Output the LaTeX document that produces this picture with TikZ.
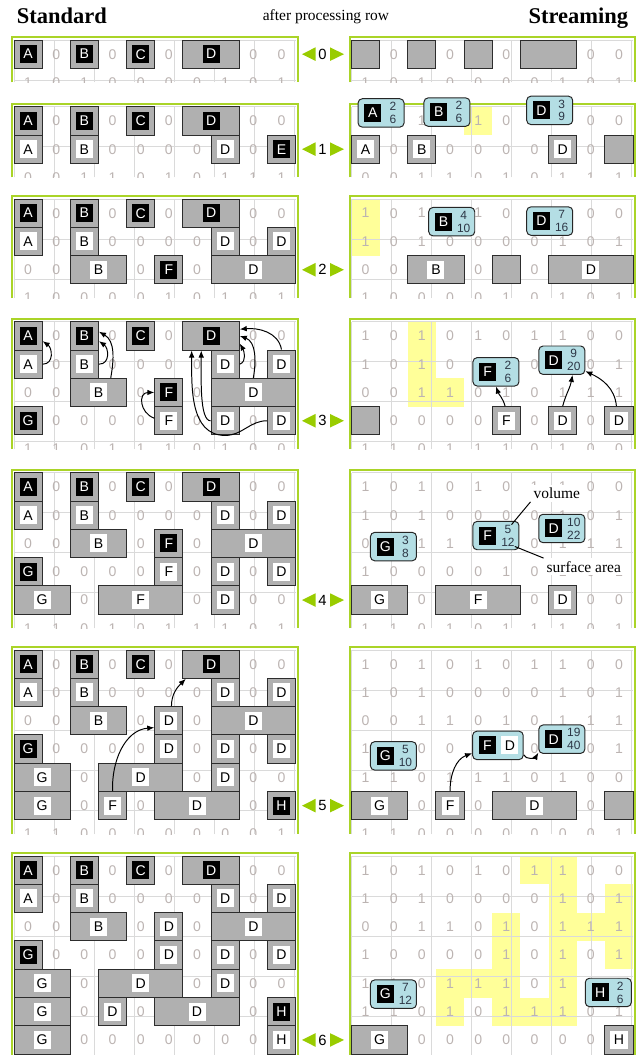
\documentclass[tikz,border=0pt]{standalone}
\usepackage{fontspec}
\setmainfont{Liberation Serif}
\setsansfont{Liberation Sans}
\usetikzlibrary{arrows.meta, calc}
\definecolor{framegreen}{RGB}{170,212,40}
\definecolor{markgreen}{RGB}{153,204,0}
\definecolor{gridgray}{RGB}{218,218,218}
\definecolor{bitgray}{RGB}{188,180,178}
\definecolor{runfill}{RGB}{176,176,176}
\definecolor{runedge}{RGB}{45,45,45}
\definecolor{doneyellow}{RGB}{255,255,153}
\definecolor{infoblue}{RGB}{180,222,228}
\definecolor{infotext}{RGB}{45,55,70}

\tikzset{
  gridunits/.style={x=0.70375cm,y=0.7075cm},
  panelframe/.style={draw=framegreen, line width=1.4pt},
  cellgrid/.style={draw=gridgray, line width=0.7pt},
  bit/.style={text=bitgray, font=\sffamily\fontsize{10}{12}\selectfont, inner sep=0},
  runbox/.style={draw=runedge, fill=runfill, line width=0.7pt, minimum height=0.7075cm, inner sep=0},
  lold/.style={fill=white, text=black, minimum width=12.1pt, minimum height=12.8pt, inner sep=0, font=\sffamily\fontsize{10}{12}\selectfont},
  lnew/.style={lold, fill=black, text=white},
  nolbl/.style={inner sep=0},
  infobox/.style={draw=black!85, fill=infoblue, rounded corners=3pt, line width=0.7pt, minimum width=1.15cm, minimum height=0.71cm, inner sep=0},
  vs/.style={text=infotext, font=\sffamily\fontsize{8.5}{9}\selectfont, inner sep=0},
  marknum/.style={font=\sffamily\fontsize{10.5}{12}\selectfont, inner sep=0},
  title/.style={font=\rmfamily\bfseries\fontsize{16}{18}\selectfont, inner sep=0},
  subtitle/.style={font=\rmfamily\fontsize{11}{13}\selectfont, inner sep=0},
  note/.style={fill=white, font=\rmfamily\fontsize{11}{13}\selectfont, inner sep=2pt},
  flow/.style={-{Latex[length=5pt,width=4pt]}, line width=0.7pt},
}

% the binary image, one group per row
\newcommand{\blobimage}{{1,0,1,0,1,0,1,1,0,0},{1,0,1,0,0,0,0,1,0,1},{0,0,1,1,0,1,0,1,1,1},{1,0,0,0,0,1,0,1,0,1},{1,1,0,1,1,1,0,1,0,0},{1,1,0,1,0,1,1,1,0,1},{1,1,0,0,0,0,0,0,0,1}}

% standard labelling: col/row/length/label style/letter
\newcommand{\stdA}{0/0/1/lnew/A, 2/0/1/lnew/B, 4/0/1/lnew/C, 6/0/2/lnew/D}
\newcommand{\stdBe}{0/1/1/lold/A, 2/1/1/lold/B, 7/1/1/lold/D, 9/1/1/lnew/E}
\newcommand{\stdB}{0/1/1/lold/A, 2/1/1/lold/B, 7/1/1/lold/D, 9/1/1/lold/D}
\newcommand{\stdCf}{2/2/2/lold/B, 5/2/1/lnew/F, 7/2/3/lold/D}
\newcommand{\stdC}{2/2/2/lold/B, 5/2/1/lold/D, 7/2/3/lold/D}
\newcommand{\stdDf}{0/3/1/lnew/G, 5/3/1/lold/F, 7/3/1/lold/D, 9/3/1/lold/D}
\newcommand{\stdD}{0/3/1/lnew/G, 5/3/1/lold/D, 7/3/1/lold/D, 9/3/1/lold/D}
\newcommand{\stdEf}{0/4/2/lold/G, 3/4/3/lold/F, 7/4/1/lold/D}
\newcommand{\stdE}{0/4/2/lold/G, 3/4/3/lold/D, 7/4/1/lold/D}
\newcommand{\stdFf}{0/5/2/lold/G, 3/5/1/lold/F, 5/5/3/lold/D, 9/5/1/lnew/H}
\newcommand{\stdF}{0/5/2/lold/G, 3/5/1/lold/D, 5/5/3/lold/D, 9/5/1/lnew/H}
\newcommand{\stdG}{0/6/2/lold/G, 9/6/1/lold/H}

% streaming: only the current row
\newcommand{\strA}{0/0/1/nolbl/{}, 2/0/1/nolbl/{}, 4/0/1/nolbl/{}, 6/0/2/nolbl/{}}
\newcommand{\strB}{0/1/1/lold/A, 2/1/1/lold/B, 7/1/1/lold/D, 9/1/1/nolbl/{}}
\newcommand{\strC}{2/2/2/lold/B, 5/2/1/nolbl/{}, 7/2/3/lold/D}
\newcommand{\strD}{0/3/1/nolbl/{}, 5/3/1/lold/F, 7/3/1/lold/D, 9/3/1/lold/D}
\newcommand{\strE}{0/4/2/lold/G, 3/4/3/lold/F, 7/4/1/lold/D}
\newcommand{\strF}{0/5/2/lold/G, 3/5/1/lold/F, 5/5/3/lold/D, 9/5/1/nolbl/{}}
\newcommand{\strG}{0/6/2/lold/G, 9/6/1/lold/H}

% frame, grid and bits of a panel
% #2 = depth in rows, #3..#4 = rows drawn as runs
\newcommand{\panelbase}[4]{%
  \draw[panelframe] (-0.07,-#2) |- (10.07,0.09) -- (10.07,-#2);
  \draw[cellgrid] (0,0) grid (10,-#2);
  \begin{scope}
    \clip (0,0) rectangle (10,-#2);
    \foreach \bits [count=\rr from 0] in \blobimage {
      \foreach \bv [count=\cc from 0] in \bits {
        \pgfmathtruncatemacro{\hide}{(\rr>=#3)*(\rr<=#4)*\bv+(\rr>#4+1)}
        \ifnum\hide=0
          \node[bit] (#1-b\rr-\cc) at (\cc+0.5,-\rr-0.5) {\bv};
        \fi
      }
    }
  \end{scope}}

\newcommand{\runs}[2]{%
  \foreach \col/\row/\len/\sty/\lab in #2 {
    \node[runbox, minimum width=\len*0.70375cm] (#1-\row-\col) at (\col+\len/2,-\row-0.5) {};
    \node[\sty] (#1-\row-\col-l) at (#1-\row-\col.center) {\lab};
  }}

% component box: name, centre, letter, volume, surface area
\newcommand{\compinfo}[5]{%
  \node[infobox] (#1) at (#2) {};
  \node[lnew] (#1-l) at ([xshift=-5.8pt]#1.center) {#3};
  \node[vs] (#1-v) at ([xshift=8.5pt,yshift=4.6pt]#1.center) {#4};
  \node[vs] (#1-s) at ([xshift=8.5pt,yshift=-4.6pt]#1.center) {#5};}

% row number between the panels
\newcommand{\rowmark}[2]{%
  \node[marknum] (mark#1) at (322.5,-#2) {#1};
  \fill[markgreen] (315.5,-#2+6.8) -- (302,-#2) -- (315.5,-#2-6.8) -- cycle;
  \fill[markgreen] (330,-#2+6.8) -- (344,-#2) -- (330,-#2-6.8) -- cycle;}

\begin{document}
\begin{tikzpicture}[x=0.025cm,y=0.025cm]
  \useasboundingbox (0,0) rectangle (643,-1055);
  % headings
  \node[title,anchor=base west] (stdtitle) at (16.5,-23.3) {Standard};
  \node[subtitle,anchor=base] (aftertitle) at (326,-20.7) {after processing row};
  \node[title,anchor=base east] (strtitle) at (628.4,-23.3) {Streaming};

  % row 0
  \begin{scope}[shift={(14,-40)},gridunits]
    \panelbase{s0}{1.5}{0}{0}
    \runs{s0}{\stdA}
  \end{scope}
  \begin{scope}[shift={(351.5,-40)},gridunits]
    \panelbase{m0}{1.5}{0}{0}
    \runs{m0}{\strA}
  \end{scope}
  \rowmark{0}{54.15}

  % row 1
  \begin{scope}[shift={(14,-106.7)},gridunits]
    \panelbase{s1}{2.5}{0}{1}
    \runs{s1}{\stdA}
    \runs{s1}{\stdBe}
  \end{scope}
  \begin{scope}[shift={(351.5,-106.7)},gridunits]
    \fill[doneyellow] (4,0) rectangle ++(1,-1);
    \panelbase{m1}{2.5}{1}{1}
    \runs{m1}{\strB}
    \compinfo{m1-A}{1.05,-0.22}{A}{2}{6}
    \compinfo{m1-B}{3.39,-0.19}{B}{2}{6}
    \compinfo{m1-D}{7.04,-0.13}{D}{3}{9}
  \end{scope}
  \rowmark{1}{149.15}

  % row 2
  \begin{scope}[shift={(14,-199)},gridunits]
    \panelbase{s2}{3.5}{0}{2}
    \runs{s2}{\stdA}
    \runs{s2}{\stdB}
    \runs{s2}{\stdCf}
  \end{scope}
  \begin{scope}[shift={(351.5,-199)},gridunits]
    \foreach \col/\row in {0/0,0/1}
      \fill[doneyellow] (\col,-\row) rectangle ++(1,-1);
    \panelbase{m2}{3.5}{2}{2}
    \runs{m2}{\strC}
    \compinfo{m2-B}{3.56,-0.8}{B}{4}{10}
    \compinfo{m2-D}{7.04,-0.78}{D}{7}{16}
  \end{scope}
  \rowmark{2}{269.75}

  % row 3
  \begin{scope}[shift={(14,-321.7)},gridunits]
    \panelbase{s3}{4.5}{0}{3}
    \runs{s3}{\stdA}
    \runs{s3}{\stdB}
    \runs{s3}{\stdCf}
    \runs{s3}{\stdDf}
    \draw[flow] (s3-1-0.east) to[out=0,in=-35,looseness=1.3] (s3-0-0.-20);
    \draw[flow] (s3-1-2.east) to[out=0,in=-35,looseness=1.3] (s3-0-2.-20);
    \draw[flow] (s3-2-2.50) to[out=80,in=-30] (s3-0-2.16);
    \draw[flow] (s3-3-5.170) to[out=160,in=180,looseness=1.6] (s3-2-5.west);
    \draw[flow] (s3-1-9.north) to[out=100,in=5] (s3-0-6.13);
    \draw[flow] (s3-2-7.north) to[out=80,in=-20] (s3-0-6.east);
    \draw[flow] (s3-1-7.east) to[out=20,in=-60] (s3-0-6.-15);
    \draw[flow] (s3-3-7.west) to[out=180,in=-90,out looseness=0.4] (s3-0-6.-124);
    \draw[flow] (s3-3-9.west) to[out=180,in=0] (s3-3-7.south) to[out=180,in=-90] (s3-0-6.-143);
  \end{scope}
  \begin{scope}[shift={(351.5,-321.7)},gridunits]
    \foreach \col/\row in {2/0,2/1,2/2,3/2}
      \fill[doneyellow] (\col,-\row) rectangle ++(1,-1);
    \panelbase{m3}{4.5}{3}{3}
    \runs{m3}{\strD}
    \compinfo{m3-F}{5.13,-1.77}{F}{2}{6}
    \compinfo{m3-D}{7.47,-1.36}{D}{9}{20}
    \draw[flow] (m3-3-5.95) to[out=105,in=-70] (m3-F.south);
    \draw[flow] (m3-3-7.north) to[out=75,in=-100] (m3-D.-54);
    \draw[flow] (m3-3-9.100) to[out=95,in=-25] (m3-D.-25);
  \end{scope}
  \rowmark{3}{420.75}

  % row 4
  \begin{scope}[shift={(14,-472.7)},gridunits]
    \panelbase{s4}{5.5}{0}{4}
    \runs{s4}{\stdA}
    \runs{s4}{\stdB}
    \runs{s4}{\stdCf}
    \runs{s4}{\stdDf}
    \runs{s4}{\stdEf}
  \end{scope}
  \begin{scope}[shift={(351.5,-472.7)},gridunits]
    \panelbase{m4}{5.5}{4}{4}
    \runs{m4}{\strE}
    \compinfo{m4-G}{1.49,-2.61}{G}{3}{8}
    \compinfo{m4-F}{5.13,-2.22}{F}{5}{12}
    \compinfo{m4-D}{7.47,-1.97}{D}{10}{22}
    \node[note] (volume) at (7.29,-0.73) {volume};
    \node[note] (surface) at (8.25,-3.32) {surface area};
    \draw[line width=0.7pt] (m4-F-v.north east) -- (volume.south west);
    \draw[line width=0.7pt] (m4-F-s.south east) -- (surface.north west);
  \end{scope}
  \rowmark{4}{600.05}

  % row 5
  \begin{scope}[shift={(14,-650)},gridunits]
    \panelbase{s5}{6.5}{0}{5}
    \runs{s5}{\stdA}
    \runs{s5}{\stdB}
    \runs{s5}{\stdC}
    \runs{s5}{\stdD}
    \runs{s5}{\stdE}
    \runs{s5}{\stdFf}
    \draw[flow] (s5-5-3.north) to[out=92,in=185] (s5-2-5.-155);
    \draw[flow] (s5-2-5.80) to[out=90,in=-135] (s5-0-6.-150);
  \end{scope}
  \begin{scope}[shift={(351.5,-650)},gridunits]
    \panelbase{m5}{6.5}{5}{5}
    \runs{m5}{\strF}
    \compinfo{m5-G}{1.49,-3.74}{G}{5}{10}
    \node[infobox, minimum width=1.265cm] (m5-FD) at (5.2,-3.37) {};
    \node[lnew] (m5-FD-f) at ([xshift=-7.5pt]m5-FD.center) {F};
    \node[lold] (m5-FD-d) at ([xshift=8.5pt]m5-FD.center) {D};
    \compinfo{m5-D}{7.47,-3.15}{D}{19}{40}
    \draw[flow] (m5-5-3.north) to[out=90,in=-160] (m5-FD.-163);
    \draw[flow] (m5-FD.-20) to[out=-70,in=-120] (m5-D.-150);
  \end{scope}
  \rowmark{5}{805.65}

  % row 6
  \begin{scope}[shift={(14,-856)},gridunits]
    \panelbase{s6}{7.03}{0}{6}
    \runs{s6}{\stdA}
    \runs{s6}{\stdB}
    \runs{s6}{\stdC}
    \runs{s6}{\stdD}
    \runs{s6}{\stdE}
    \runs{s6}{\stdF}
    \runs{s6}{\stdG}
  \end{scope}
  \begin{scope}[shift={(351.5,-856)},gridunits]
    \foreach \col/\row in {6/0,7/0,7/1,9/1,5/2,7/2,8/2,9/2,5/3,7/3,9/3,3/4,4/4,5/4,7/4,3/5,5/5,6/5,7/5}
      \fill[doneyellow] (\col,-\row) rectangle ++(1,-1);
    \panelbase{m6}{7.03}{6}{6}
    \runs{m6}{\strG}
    \compinfo{m6-G}{1.49,-4.88}{G}{7}{12}
    \compinfo{m6-H}{9.12,-4.82}{H}{2}{6}
  \end{scope}
  \rowmark{6}{1039.95}
\end{tikzpicture}
\end{document}
